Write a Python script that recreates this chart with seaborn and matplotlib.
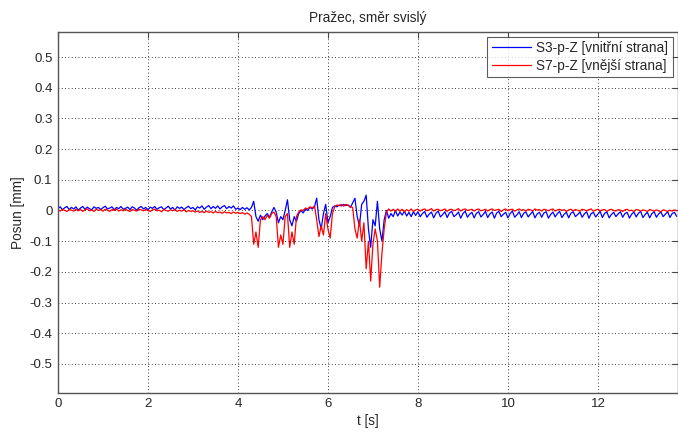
import numpy as np
import pandas as pd
import seaborn as sns
import matplotlib
matplotlib.use("Agg")
import matplotlib.pyplot as plt

# cas [s], krok 0.05 s
t = np.round(np.arange(276) * 0.05, 2)

# S3-p-Z [vnitřní strana]
s3 = [
    0.006, 0.012, 0.002, 0.009, 0.013, 0.003, 0.010, 0.005, 0.012, 0.001,
    0.008, 0.013, 0.004, 0.011, 0.006, 0.002, 0.012, 0.007, 0.010, 0.003,
    0.009, 0.014, 0.005, 0.008, 0.012, 0.002, 0.010, 0.006, 0.013, 0.004,
    0.007, 0.011, 0.003, 0.012, 0.008, 0.001, 0.009, 0.013, 0.005, 0.010,
    0.002, 0.011, 0.007, 0.013, 0.004, 0.009, 0.012, 0.003, 0.008, 0.014,
    0.005, 0.010, 0.001, 0.012, 0.007, 0.011, 0.003, 0.009, 0.014, 0.006,
    0.010, 0.002, 0.012, 0.008, 0.015, 0.004, 0.011, 0.016, 0.006, 0.013,
    0.007, 0.015, 0.005, 0.012, 0.016, 0.006, 0.013, 0.008, 0.015, 0.004,
    0.008, 0.003, 0.010, 0.004, 0.009, 0.002, 0.010, 0.030, -0.020, -0.035,
    -0.015, -0.030, -0.018, -0.010, -0.022, -0.005, 0.010, -0.005, -0.040, -0.020,
    -0.030, 0.000, 0.035, -0.030, -0.050, -0.020, -0.035, -0.010, 0.000, -0.008,
    0.005, 0.000, 0.010, 0.005, 0.012, 0.040, -0.030, -0.060, -0.010, 0.020,
    -0.040, -0.020, 0.010, 0.015, 0.012, 0.018, 0.015, 0.020, 0.016, 0.018,
    0.010, 0.025, 0.040, -0.020, -0.050, 0.020, 0.030, 0.050, -0.060, -0.120,
    -0.030, -0.050, 0.030, -0.060, -0.100, -0.030, 0.000, -0.025, -0.010, -0.020,
    0.000, -0.018, -0.005, -0.015, -0.002, -0.018, -0.006, -0.020, -0.004, -0.016,
    -0.004, -0.020, -0.010, -0.003, -0.022, -0.012, -0.005, -0.024, -0.009, -0.002,
    -0.021, -0.013, -0.004, -0.023, -0.008, -0.003, -0.020, -0.014, -0.005, -0.025,
    -0.010, -0.002, -0.022, -0.012, -0.006, -0.024, -0.009, -0.004, -0.021, -0.013,
    -0.003, -0.023, -0.011, -0.005, -0.025, -0.008, -0.003, -0.020, -0.012, -0.006,
    -0.024, -0.010, -0.002, -0.022, -0.014, -0.004, -0.023, -0.009, -0.005, -0.021,
    -0.012, -0.003, -0.024, -0.011, -0.006, -0.022, -0.008, -0.004, -0.025, -0.013,
    -0.005, -0.021, -0.010, -0.003, -0.023, -0.012, -0.006, -0.024, -0.009, -0.004,
    -0.020, -0.013, -0.005, -0.022, -0.011, -0.004, -0.025, -0.010, -0.006, -0.021,
    -0.012, -0.003, -0.023, -0.009, -0.005, -0.024, -0.013, -0.006, -0.020, -0.011,
    -0.004, -0.022, -0.010, -0.006, -0.025, -0.012, -0.005, -0.021, -0.009, -0.003,
    -0.023, -0.013, -0.006, -0.024, -0.010, -0.004, -0.022, -0.011, -0.005, -0.020,
    -0.012, -0.004, -0.023, -0.010, -0.006, -0.019,
]

# S7-p-Z [vnější strana]
s7 = [
    0.002, -0.002, 0.004, 0.000, -0.003, 0.003, 0.001, -0.002, 0.004, -0.001,
    0.003, -0.003, 0.002, 0.005, -0.001, 0.002, -0.003, 0.004, 0.000, 0.003,
    -0.002, 0.004, 0.001, -0.003, 0.003, 0.000, 0.005, -0.002, 0.002, -0.001,
    0.004, 0.000, -0.003, 0.003, 0.001, -0.002, 0.004, 0.002, -0.001, 0.003,
    0.000, -0.003, 0.002, 0.004, -0.001, 0.001, -0.004, 0.003, 0.000, -0.002,
    0.002, -0.001, 0.003, -0.003, 0.001, -0.002, 0.002, -0.004, 0.000, -0.003,
    -0.001, -0.005, -0.002, -0.006, -0.003, -0.007, -0.002, -0.006, -0.004, -0.008,
    -0.003, -0.007, -0.005, -0.009, -0.004, -0.008, -0.006, -0.010, -0.005, -0.009,
    -0.006, -0.010, -0.007, -0.012, -0.008, -0.012, -0.020, -0.110, -0.070, -0.120,
    -0.030, -0.020, -0.030, -0.015, -0.025, -0.010, -0.005, -0.020, -0.120, -0.080,
    -0.110, -0.020, -0.010, -0.120, -0.070, -0.110, -0.020, -0.005, 0.002, 0.000,
    0.008, 0.005, 0.012, 0.008, 0.015, -0.030, -0.085, -0.050, -0.080, -0.010,
    -0.060, -0.090, -0.010, 0.012, 0.018, 0.015, 0.020, 0.014, 0.020, 0.016,
    0.012, 0.010, -0.060, -0.090, -0.030, -0.100, -0.040, -0.190, -0.100, -0.230,
    -0.110, -0.060, -0.100, -0.250, -0.140, -0.060, -0.005, 0.005, -0.002, 0.004,
    -0.003, 0.005, -0.002, 0.004, -0.004, 0.003, -0.002, 0.005, -0.003, 0.002,
    0.004, -0.002, 0.003, 0.005, -0.001, 0.002, 0.006, -0.002, 0.003, 0.004,
    -0.001, 0.002, 0.005, -0.003, 0.003, 0.004, -0.001, 0.002, 0.006, -0.002,
    0.003, 0.005, 0.000, 0.002, 0.004, -0.002, 0.003, 0.005, -0.001, 0.001,
    0.004, -0.002, 0.003, 0.005, 0.000, 0.002, 0.004, -0.003, 0.002, 0.005,
    -0.001, 0.003, 0.004, -0.002, 0.002, 0.005, 0.000, 0.003, -0.002, 0.004,
    0.002, -0.001, 0.005, 0.001, 0.003, -0.002, 0.004, 0.002, -0.001, 0.003,
    0.005, -0.002, 0.002, 0.004, 0.000, 0.003, -0.003, 0.002, 0.004, -0.001,
    0.003, 0.001, -0.002, 0.004, 0.002, -0.001, 0.003, 0.005, -0.002, 0.001,
    0.004, -0.001, 0.002, 0.003, -0.003, 0.002, 0.004, 0.000, -0.002, 0.003,
    0.001, -0.003, 0.002, 0.004, -0.001, 0.001, -0.003, 0.003, 0.002, -0.002,
    0.002, 0.000, -0.003, 0.003, 0.001, -0.002, 0.002, -0.001, -0.004, 0.002,
    0.000, -0.003, 0.001, -0.002, 0.002, -0.001,
]

labels = ["S3-p-Z [vnitřní strana]", "S7-p-Z [vnější strana]"]
xticks = [0, 2, 4, 6, 8, 10, 12]
yticks = [-0.5, -0.4, -0.3, -0.2, -0.1, 0, 0.1, 0.2, 0.3, 0.4, 0.5]

df = pd.DataFrame({"t": np.concatenate([t, t]),
                   "posun": s3 + s7,
                   "serie": [labels[0]] * len(t) + [labels[1]] * len(t)})

sns.set_style("white")
plt.rcParams["font.family"] = ["Liberation Sans", "DejaVu Sans"]
plt.rcParams["axes.unicode_minus"] = False

fig = plt.figure(figsize=(6.78, 4.37), dpi=100)
ax = fig.add_axes([0.0855, 0.1014, 1 - 0.0855, 0.9275 - 0.1014])

sns.lineplot(data=df, x="t", y="posun", hue="serie", palette=["#0000ff", "#ff0000"],
             estimator=None, sort=False, linewidth=0.9, ax=ax)

ax.set_xlim(0, 13.78)
ax.set_ylim(-0.594, 0.583)
ax.set_xticks(xticks)
ax.set_xticklabels([str(v) for v in xticks])
ax.set_yticks(yticks)
ax.set_yticklabels([f"{v:g}" for v in yticks])
ax.grid(True, linestyle=(0, (1, 3)), color="black", linewidth=0.6)
ax.tick_params(direction="in", length=4, width=0.8, labelsize=9.5, color="#444444",
               top=True, right=True, pad=4)
for sp in ax.spines.values():
    sp.set_color("#555555")
    sp.set_linewidth(1.0)

ax.set_title("Pražec, směr svislý", fontsize=9.8, pad=7)
ax.set_xlabel("t [s]", fontsize=9.8, labelpad=3)
ax.set_ylabel("Posun [mm]", fontsize=9.8, labelpad=3)

leg = ax.legend(loc="upper right", fontsize=9.8, frameon=True, fancybox=False,
                borderaxespad=0.4, handlelength=2.9, handletextpad=0.4,
                borderpad=0.3, labelspacing=0.25)
leg.get_frame().set_edgecolor("#333333")
leg.get_frame().set_linewidth(0.8)
leg.set_title(None)

fig.savefig("out.png", dpi=100)
